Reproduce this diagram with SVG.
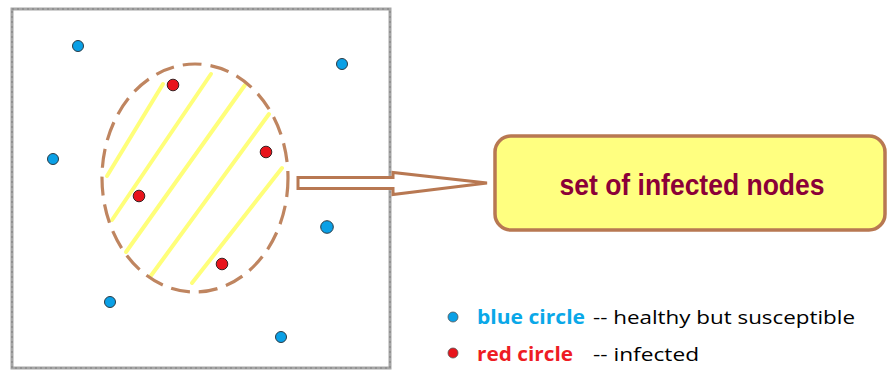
<svg xmlns="http://www.w3.org/2000/svg" width="891" height="370" viewBox="0 0 891 370">
  <style>
    .frame { fill: none; stroke: #a6a6a6; stroke-width: 3; }
    .frame-grain { fill: none; stroke: #7f7f7f; stroke-width: 1; stroke-dasharray: 2 3; }
    .healthy { fill: #0aa0e6; stroke: #2b3a44; stroke-width: 1; }
    .infected { fill: #e8141c; stroke: #3a2222; stroke-width: 1; }
    .hatch { stroke: #ffff7a; stroke-width: 4; stroke-linecap: round; }
    .region { fill: none; stroke: #bf8560; stroke-width: 3.2; stroke-dasharray: 19 9; }
    .block-arrow { fill: #ffffff; stroke: #b87852; stroke-width: 3; stroke-linejoin: miter; }
    .set-box { fill: #ffff80; stroke: #b87852; stroke-width: 3.5; }
    .set-label { font-family: "Liberation Sans", Arial, sans-serif; font-weight: bold; font-size: 29px; fill: #8b0038; }
    .legend { font-family: "Open Sans", "Noto Sans", sans-serif; font-size: 19px; }
    .legend-key { font-weight: bold; }
  </style>

  <!-- population frame -->
  <g id="frame">
    <rect class="frame" x="12" y="9" width="378" height="359"/>
    <rect class="frame-grain" x="12" y="9" width="378" height="359"/>
  </g>

  <!-- infected region: hatched, dashed ellipse -->
  <g id="infected-region">
    <line class="hatch" x1="163" y1="84" x2="107" y2="176"/>
    <line class="hatch" x1="211" y1="74" x2="112" y2="220"/>
    <line class="hatch" x1="245" y1="85" x2="126" y2="252"/>
    <line class="hatch" x1="269" y1="114" x2="150" y2="277"/>
    <line class="hatch" x1="282" y1="168" x2="192" y2="283"/>
    <ellipse class="region" cx="195" cy="178" rx="93" ry="114"/>
  </g>

  <!-- healthy nodes -->
  <g id="healthy-nodes">
    <circle class="healthy" cx="78" cy="46" r="5.5"/>
    <circle class="healthy" cx="342" cy="64" r="5.5"/>
    <circle class="healthy" cx="53" cy="159" r="5.5"/>
    <circle class="healthy" cx="327" cy="227" r="6.3"/>
    <circle class="healthy" cx="110" cy="302" r="5.5"/>
    <circle class="healthy" cx="281" cy="337" r="5.5"/>
  </g>

  <!-- infected nodes -->
  <g id="infected-nodes">
    <circle class="infected" cx="173" cy="85" r="5.8"/>
    <circle class="infected" cx="266" cy="152" r="5.8"/>
    <circle class="infected" cx="139" cy="196" r="5.8"/>
    <circle class="infected" cx="222" cy="264" r="5.8"/>
  </g>

  <!-- connector: hollow block arrow -->
  <g id="connectors">
    <path class="block-arrow" d="M298 177.5 H393 V172.5 L487 183 L393 194.5 V188.5 H298 Z"/>
  </g>

  <!-- target node -->
  <g id="infected-set">
    <rect class="set-box" x="495" y="136" width="390" height="94" rx="16" ry="16"/>
    <text class="set-label" x="692" y="195" text-anchor="middle" textLength="265" lengthAdjust="spacingAndGlyphs">set of infected nodes</text>
  </g>

  <!-- legend -->
  <g id="legend">
    <circle cx="453" cy="317" r="5" fill="#0aa0e6" stroke="#555" stroke-width="0.8"/>
    <text class="legend legend-key" x="477" y="324" fill="#0aa8e8" textLength="108" lengthAdjust="spacingAndGlyphs">blue circle</text>
    <text class="legend" x="593" y="324" fill="#000" textLength="262" lengthAdjust="spacingAndGlyphs">-- healthy but susceptible</text>
    <circle cx="453" cy="353" r="5" fill="#e8141c" stroke="#555" stroke-width="0.8"/>
    <text class="legend legend-key" x="477" y="361" fill="#ee1c24" textLength="96" lengthAdjust="spacingAndGlyphs">red circle</text>
    <text class="legend" x="593" y="361" fill="#000" textLength="106" lengthAdjust="spacingAndGlyphs">-- infected</text>
  </g>
</svg>
